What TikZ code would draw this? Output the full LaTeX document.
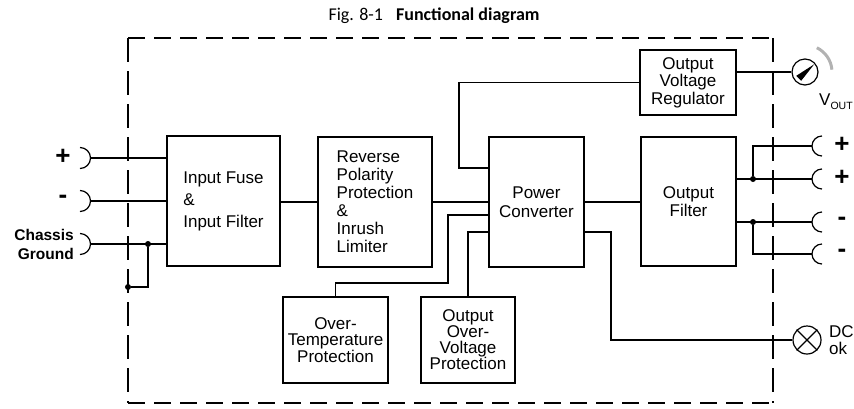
\documentclass[tikz,border=0pt]{standalone}
\usepackage{fontspec}
\setmainfont{Liberation Sans}
\newfontfamily\titlefont{Carlito}
\usetikzlibrary{calc}

\begin{document}
\begin{tikzpicture}[x=1pt,y=-1pt,
        blk/.style={draw,line width=1.4pt,inner sep=0pt,font=\fontsize{17}{#1}\selectfont},
        blk/.default=18,
        wire/.style={line width=1.2pt},
        brd/.style={line width=1.5pt},
        dot/.style={circle,fill,inner sep=0pt,minimum size=6pt},
        sym/.style={inner sep=0pt,font=\bfseries\fontsize{26}{26}\selectfont},
        lamp/.style={draw,circle,line width=1.2pt,inner sep=0pt}]
        \useasboundingbox (0,0) rectangle (854,408);
        \node[font=\titlefont\fontsize{18}{18}\selectfont,inner sep=0pt] (title) at (434,16) {Fig. 8-1\hspace{13pt}\textbf{Functional diagram}};
        \coordinate (fa) at (128,38);
        \coordinate (fb) at (773,38);
        \coordinate (fc) at (773,403);
        \coordinate (fd) at (128,403);
        \draw[brd,dash pattern=on 17pt off 9pt] (fa) -- (fb) (fd) -- (fc);
        \draw[brd,dash pattern=on 24pt off 9pt] (fa) -- (fd) (fb) -- (fc);
        \node[blk=22,align=left,minimum width=113pt,minimum height=130pt] (fuse) at (223.5,201) {Input Fuse\\\&\\Input Filter};
        \node[blk=18,align=left,minimum width=114pt,minimum height=130pt] (rev) at (375,202) {Reverse\\Polarity\\Protection\\\&\\Inrush\\Limiter};
        \node[blk=19,align=center,minimum width=95pt,minimum height=130pt] (conv) at (536.5,202) {Power\\Converter};
        \node[blk=18,align=center,minimum width=95pt,minimum height=129pt] (ofilt) at (688.5,201.5) {Output\\Filter};
        \node[blk=17.5,align=center,minimum width=96pt,minimum height=65pt] (reg) at (688,82.5) {Output\\Voltage\\Regulator};
        \node[blk=15.5,align=center,minimum width=105pt,minimum height=86pt] (otp) at (335.5,340) {Over-\\Temperature\\Protection};
        \node[blk=16,align=center,minimum width=94pt,minimum height=86pt] (ovp) at (468,340) {Output\\Over-\\Voltage\\Protection};
        \coordinate (tpos) at (90.5,158);
        \coordinate (tneg) at (90.5,201);
        \coordinate (tgnd) at (90.5,244);
        \draw[wire] (tpos) arc[start angle=0,end angle=90,radius=10.5pt] (tpos) arc[start angle=0,end angle=-90,radius=10.5pt];
        \draw[wire] (tneg) arc[start angle=0,end angle=90,radius=10.5pt] (tneg) arc[start angle=0,end angle=-90,radius=10.5pt];
        \draw[wire] (tgnd) arc[start angle=0,end angle=90,radius=10.5pt] (tgnd) arc[start angle=0,end angle=-90,radius=10.5pt];
        \node[sym] (lpos) at (63,157) {+};
        \node[sym] (lneg) at (63,199) {-};
        \node[font=\bfseries\fontsize{15.5}{19}\selectfont,align=right,anchor=east,inner sep=0pt] (lgnd) at (74,244) {Chassis\\Ground};
        \draw[wire] (tpos) -- (fuse.west |- tpos);
        \draw[wire] (tneg) -- (fuse.west |- tneg);
        \draw[wire] (tgnd) -- (fuse.west |- tgnd);
        \node[dot] (g1) at (148,244) {};
        \node[dot] (g2) at (128,287) {};
        \draw[wire] (g1) |- (g2);
        \draw[wire] (fuse.east |- rev) -- (rev.west);
        \draw[wire] (rev.east) -- (conv.west);
        \draw[wire] (conv.east) -- (ofilt.west |- conv.east);
        \coordinate (k1) at (459,168);
        \draw[wire] (conv.west |- k1) -- (k1) |- (reg.west);
        \coordinate (k2) at (448,215);
        \coordinate (k3) at (448,283);
        \draw[wire] (conv.west |- k2) -- (k2) -- (k3) -| (otp.north);
        \coordinate (k4) at (466,232);
        \draw[wire] (conv.west |- k4) -| (ovp.north);
        \node[lamp,minimum size=28pt] (dcok) at (807,340) {};
        \draw[wire] (dcok.north west) -- (dcok.south east) (dcok.north east) -- (dcok.south west);
        \coordinate (k5) at (611,232);
        \draw[wire] (conv.east |- k5) -- (k5) |- (dcok.west);
        \node[anchor=west,align=left,inner sep=0pt,font=\fontsize{17}{17}\selectfont] (ldc) at (829,340) {DC\\ok};
        \node[lamp,minimum size=26pt] (gauge) at (805,72) {};
        \draw[wire] (reg.east |- gauge) -- (gauge.west);
        \fill ($(gauge)+(40:12pt)$) -- ($(gauge)+(225:9pt)+(135:3.5pt)$) -- ($(gauge)+(225:9pt)+(315:3.5pt)$) -- cycle;
        \draw[gray!60,line width=3pt] ($(gauge)+(64:27pt)$) arc[start angle=64,end angle=5,radius=27pt];
        \node[anchor=west,inner sep=0pt,font=\fontsize{17}{17}\selectfont] (lvout) at (819,102) {V\raisebox{-4pt}{\fontsize{10.5}{10.5}\selectfont OUT}};
        \coordinate (to1) at (812,146);
        \coordinate (to2) at (812,179);
        \coordinate (to3) at (812,222);
        \coordinate (to4) at (812,254);
        \draw[wire] (to1) arc[start angle=180,end angle=90,radius=10pt] (to1) arc[start angle=180,end angle=270,radius=10pt];
        \draw[wire] (to2) arc[start angle=180,end angle=90,radius=10pt] (to2) arc[start angle=180,end angle=270,radius=10pt];
        \draw[wire] (to3) arc[start angle=180,end angle=90,radius=10pt] (to3) arc[start angle=180,end angle=270,radius=10pt];
        \draw[wire] (to4) arc[start angle=180,end angle=90,radius=10pt] (to4) arc[start angle=180,end angle=270,radius=10pt];
        \node[dot] (d1) at (753,179) {};
        \node[dot] (d2) at (753,222) {};
        \draw[wire] (ofilt.east |- to2) -- (to2);
        \draw[wire] (d1) |- (to1);
        \draw[wire] (ofilt.east |- to3) -- (to3);
        \draw[wire] (d2) |- (to4);
        \node[sym] (lo1) at (842,145) {+};
        \node[sym] (lo2) at (842,178) {+};
        \node[sym] (lo3) at (842,221) {-};
        \node[sym] (lo4) at (842,253) {-};
\end{tikzpicture}
\end{document}
